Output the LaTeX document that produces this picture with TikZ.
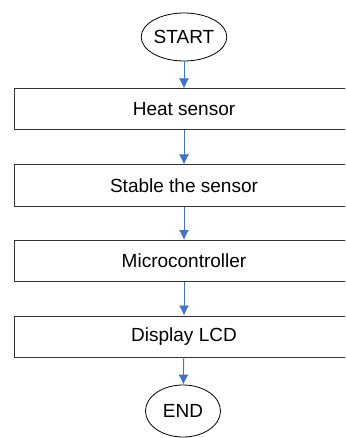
\documentclass[tikz,border=0pt]{standalone}
\usepackage{fontspec}
\setmainfont{Liberation Sans}
\usetikzlibrary{shapes.geometric,arrows.meta}

\definecolor{flowblue}{RGB}{68,114,196}
\tikzset{
  stepbox/.style={draw=black!80, line width=1pt, minimum width=340pt, minimum height=41pt, inner sep=0pt,
    font=\fontsize{19}{23}\selectfont},
  terminal/.style={ellipse, draw=black, line width=0.8pt, minimum width=78pt, minimum height=48pt, inner sep=0pt,
    font=\fontsize{19}{23}\selectfont},
  flow/.style={->, >={Latex[length=10pt,width=10pt]}, color=flowblue, line width=0.9pt},
}

\begin{document}
\begin{tikzpicture}[x=1pt,y=-1pt]
\useasboundingbox (0,0) rectangle (345,438);
\clip (0,0) rectangle (345,438);
\fill[white] (0,0) rectangle (345,438);

\node[terminal] (start) at (184,37) {START};
\node[stepbox] (heat) at (184,109.5) {Heat sensor};
\node[stepbox] (stable) at (184,185.5) {Stable the sensor};
\node[stepbox] (mcu) at (184,261) {Microcontroller};
\node[stepbox] (lcd) at (184,336.5) {Display LCD};
\node[terminal, minimum width=75pt, minimum height=52pt] (end) at (183,411) {END};

\draw[flow] (start) to (heat);
\draw[flow] (heat) to (stable);
\draw[flow] (stable) to (mcu);
\draw[flow] (mcu) to (lcd);
\draw[flow] (lcd) to (end);
\end{tikzpicture}
\end{document}
